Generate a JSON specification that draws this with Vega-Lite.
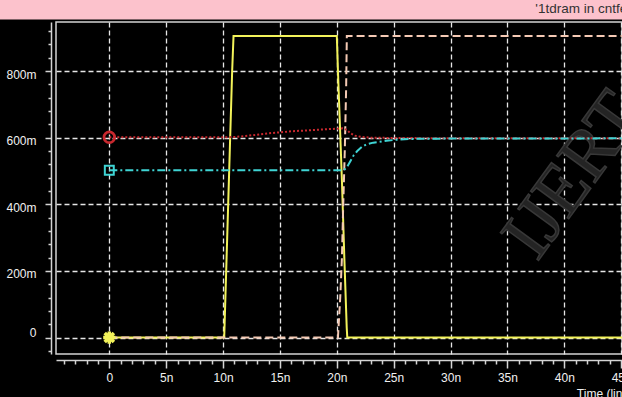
{
  "$schema": "https://vega.github.io/schema/vega-lite/v6.json",
  "width": 566,
  "height": 332,
  "autosize": {"type": "none"},
  "padding": {"left": 56, "top": 22, "right": 0, "bottom": 43},
  "background": "#000000",
  "config": {"view": {"stroke": "#d4d4d4", "strokeWidth": 1.5}, "font": "Liberation Sans"},
  "layer": [
    {
      "data": {"values": [{}]},
      "mark": {"type": "rect", "color": "#fcc2cc"},
      "encoding": {
        "x": {"datum": -20, "type": "quantitative", "scale": {"domain": [-4.686, 45.07], "nice": false, "zero": false},
          "axis": {
            "values": [-4,-3,-2,-1,0,1,2,3,4,5,6,7,8,9,10,11,12,13,14,15,16,17,18,19,20,21,22,23,24,25,26,27,28,29,30,31,32,33,34,35,36,37,38,39,40,41,42,43,44,45],
            "tickCount": 1000,
            "offset": 6,
            "title": null,
            "domainColor": "#d4d4d4", "domainWidth": 1.5,
            "tickColor": "#d4d4d4", "tickWidth": 1.5,
            "tickSize": {"condition": {"test": "datum.value % 5 === 0", "value": 8}, "value": 4},
            "labelExpr": "datum.value % 5 === 0 ? (datum.value === 0 ? '0' : datum.value + 'n') : ''",
            "labelColor": "#f0f0f0", "labelFontSize": 12, "labelPadding": 4,
            "labelOverlap": false, "labelFlush": false, "labelBound": false,
            "grid": true, "gridColor": "#e6e6e6", "gridDash": [5, 3], "gridWidth": 1.3,
            "gridOpacity": {"condition": {"test": "datum.value % 5 === 0", "value": 1}, "value": 0}
          }},
        "x2": {"datum": 60},
        "y": {"datum": 1200, "type": "quantitative", "scale": {"domain": [-49.5, 947.2], "nice": false, "zero": false},
          "axis": {
            "values": [-40,0,40,80,120,160,200,240,280,320,360,400,440,480,520,560,600,640,680,720,760,800,840,880,920],
            "tickCount": 1000,
            "offset": 5,
            "title": null,
            "domainColor": "#d4d4d4", "domainWidth": 1.5,
            "tickColor": "#d4d4d4", "tickWidth": 1.5,
            "tickSize": {"condition": {"test": "datum.value % 200 === 0", "value": 6}, "value": 3},
            "labelExpr": "datum.value % 200 === 0 ? (datum.value === 0 ? '0' : datum.value + 'm') : ''",
            "labelColor": "#f0f0f0", "labelFontSize": 12, "labelPadding": 9,
            "labelOffset": {"condition": {"test": "datum.value === 0", "value": -5}, "value": 3},
            "labelOverlap": false, "labelFlush": false, "labelBound": false,
            "grid": true, "gridColor": "#e6e6e6", "gridDash": [5, 3], "gridWidth": 1.3,
            "gridOpacity": {"condition": {"test": "datum.value % 200 === 0", "value": 1}, "value": 0}
          }},
        "y2": {"datum": 955}
      }
    },
    {
      "data": {"values": [{"label": "'1tdram in cntfet"}]},
      "mark": {"type": "text", "align": "left", "baseline": "middle", "fontSize": 13.5, "color": "#333333"},
      "encoding": {
        "x": {"datum": 37.45, "type": "quantitative"},
        "y": {"datum": 985, "type": "quantitative"},
        "text": {"field": "label"}
      }
    },
    {
      "data": {"values": [{"label": "IJERT"}]},
      "mark": {"type": "text", "align": "left", "baseline": "alphabetic", "angle": -54, "fontSize": 72, "font": "Liberation Serif", "color": "#242424", "stroke": "#383838", "strokeWidth": 1.5},
      "encoding": {
        "x": {"datum": 37.6, "type": "quantitative"},
        "y": {"datum": 225, "type": "quantitative"},
        "text": {"field": "label"}
      }
    },
    {
      "data": {"values": [{"label": "Time (lin)"}]},
      "mark": {"type": "text", "align": "left", "baseline": "top", "fontSize": 12, "color": "#f0f0f0"},
      "encoding": {
        "x": {"datum": 41.1, "type": "quantitative"},
        "y": {"datum": -154, "type": "quantitative"},
        "text": {"field": "label"}
      }
    },
    {
      "data": {"values": [
        {"s": "v1", "t": 0, "v": 0}, {"s": "v1", "t": 10.1, "v": 0}, {"s": "v1", "t": 10.45, "v": 400}, {"s": "v1", "t": 10.8, "v": 800}, {"s": "v1", "t": 10.92, "v": 905},
        {"s": "v1", "t": 20.0, "v": 905}, {"s": "v1", "t": 20.1, "v": 800}, {"s": "v1", "t": 20.45, "v": 470}, {"s": "v1", "t": 20.65, "v": 250}, {"s": "v1", "t": 20.87, "v": 30}, {"s": "v1", "t": 20.92, "v": 0}, {"s": "v1", "t": 45.5, "v": 0},
        {"s": "v2", "t": 0, "v": 0}, {"s": "v2", "t": 20.1, "v": 0}, {"s": "v2", "t": 20.3, "v": 120}, {"s": "v2", "t": 20.45, "v": 240}, {"s": "v2", "t": 20.55, "v": 380}, {"s": "v2", "t": 20.7, "v": 560}, {"s": "v2", "t": 20.82, "v": 750}, {"s": "v2", "t": 20.88, "v": 905}, {"s": "v2", "t": 45.5, "v": 905},
        {"s": "v3", "t": 0, "v": 601}, {"s": "v3", "t": 10, "v": 601}, {"s": "v3", "t": 11, "v": 602}, {"s": "v3", "t": 12, "v": 605}, {"s": "v3", "t": 13, "v": 609}, {"s": "v3", "t": 14, "v": 613}, {"s": "v3", "t": 15, "v": 616}, {"s": "v3", "t": 16, "v": 619}, {"s": "v3", "t": 17, "v": 621}, {"s": "v3", "t": 18, "v": 623}, {"s": "v3", "t": 19, "v": 625}, {"s": "v3", "t": 20, "v": 627}, {"s": "v3", "t": 20.5, "v": 628}, {"s": "v3", "t": 20.9, "v": 623}, {"s": "v3", "t": 21.2, "v": 613}, {"s": "v3", "t": 21.6, "v": 606}, {"s": "v3", "t": 22.2, "v": 602}, {"s": "v3", "t": 23, "v": 600}, {"s": "v3", "t": 25, "v": 599}, {"s": "v3", "t": 30, "v": 598}, {"s": "v3", "t": 45.5, "v": 598},
        {"s": "v4", "t": 0, "v": 502}, {"s": "v4", "t": 20.6, "v": 502}, {"s": "v4", "t": 20.9, "v": 512}, {"s": "v4", "t": 21.2, "v": 530}, {"s": "v4", "t": 21.5, "v": 548}, {"s": "v4", "t": 21.8, "v": 560}, {"s": "v4", "t": 22.2, "v": 572}, {"s": "v4", "t": 22.6, "v": 580}, {"s": "v4", "t": 23.2, "v": 585}, {"s": "v4", "t": 24, "v": 589}, {"s": "v4", "t": 25, "v": 593}, {"s": "v4", "t": 26.5, "v": 596}, {"s": "v4", "t": 28, "v": 597}, {"s": "v4", "t": 45.5, "v": 598}
      ]},
      "layer": [
        {
          "mark": {"type": "line", "strokeWidth": 2, "clip": true},
          "encoding": {
            "x": {"field": "t", "type": "quantitative"},
            "y": {"field": "v", "type": "quantitative"},
            "color": {"field": "s", "type": "nominal", "legend": null,
              "scale": {"domain": ["v1", "v2", "v3", "v4"], "range": ["#f2f25a", "#f4c9b4", "#c8282e", "#3fd4d4"]}},
            "strokeDash": {"field": "s", "type": "nominal", "legend": null,
              "scale": {"domain": ["v1", "v2", "v3", "v4"], "range": [[1, 0], [8, 4], [2, 2], [8, 3, 2, 3]]}},
            "order": {"field": "t", "type": "quantitative"}
          }
        },
        {
          "transform": [{"filter": "datum.t === 0 && datum.s !== 'v2'"}],
          "mark": {"type": "point", "filled": false, "opacity": 1},
          "encoding": {
            "x": {"field": "t", "type": "quantitative"},
            "y": {"field": "v", "type": "quantitative"},
            "color": {"field": "s", "type": "nominal", "legend": null},
            "shape": {"field": "s", "type": "nominal", "legend": null,
              "scale": {"domain": ["v1", "v3", "v4"], "range": ["M-1,0L1,0M0,-1L0,1M-0.75,-0.75L0.75,0.75M-0.75,0.75L0.75,-0.75", "circle", "square"]}},
            "size": {"field": "s", "type": "nominal", "legend": null,
              "scale": {"domain": ["v1", "v3", "v4"], "range": [150, 80, 110]}},
            "strokeWidth": {"field": "s", "type": "nominal", "legend": null,
              "scale": {"domain": ["v1", "v3", "v4"], "range": [3.5, 2, 2]}}
          }
        }
      ]
    }
  ]
}
